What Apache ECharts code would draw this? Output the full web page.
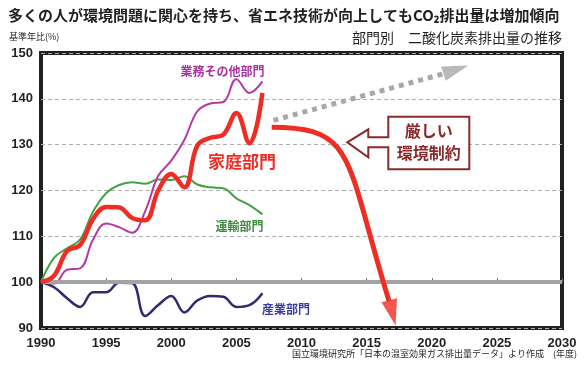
<!DOCTYPE html>
<html><head><meta charset="utf-8">
<script src="https://cdn.jsdelivr.net/npm/echarts@6/dist/echarts.min.js"></script>
<style>html,body{margin:0;padding:0;background:#fff}#c{width:584px;height:369px}</style>
</head><body><div id="c"></div>
<script>
// ---- data ----
const years = [1990,1991,1992,1993,1994,1995,1996,1997,1998,1999,2000,2001,2002,2003,2004,2005,2006,2007];
const household  = [100,101.4,106.8,108.1,113.8,116.4,116.3,114.0,113.5,120.0,123.6,120.7,129.8,131.5,132.2,136.9,130.3,141.3]; // 家庭部門
const commercial = [100,99.7,102.7,103.0,109.3,112.8,112.0,110.8,115.5,123.2,126.5,131.0,137.3,139.0,139.3,144.3,141.3,143.8]; // 業務その他部門
const transport  = [100,105.3,107.4,109.3,115.4,119.4,121.2,121.8,121.5,122.4,122.3,123.1,121.3,120.7,120.5,118.3,116.8,114.8]; // 運輸部門
const industry   = [100,98.9,96.5,94.6,97.8,97.8,99.9,99.8,92.6,95.0,97.0,93.4,96.0,97.0,96.8,94.6,95.0,97.6]; // 産業部門
// illustrative scenario arrows (year, % of base year): start, control 1, control 2, end
const declineYears  = [2007.71, 2014.24, 2013.34, 2016.72];
const declineValues = [133.8, 133.8, 127.1, 95.9];
const declineHead   = [2016.98, 93.3];
const trendYears  = [2007.85, 2020.94];
const trendValues = [135.3, 145.5];
const trendHead   = [2021.85, 146.4];
const yMin = 90, yMax = 150, yStep = 10;
const xMin = 1990, xMax = 2030, xStep = 5;

const pair = (xs, ys) => xs.map((x, i) => [x, ys[i]]);
const FONT = '"Noto Sans CJK JP", "Noto Sans", sans-serif';
const NUMFONT = '"Liberation Sans", Arial, sans-serif';

const chart = echarts.init(document.getElementById('c'), null, {renderer: 'canvas'});
const lineBase = {type: 'line', showSymbol: false, symbol: 'none', silent: true, animation: false};

chart.setOption({
  animation: false,
  backgroundColor: '#fff',
  grid: {left: 41, right: 22, top: 53, bottom: 41, show: true, borderColor: '#231f20', borderWidth: 4, backgroundColor: 'transparent'},
  xAxis: [{
    type: 'value', min: xMin, max: xMax, interval: xStep,
    axisLine: {show: false}, axisTick: {show: false}, splitLine: {show: false},
    axisLabel: {margin: 9, fontSize: 13, fontWeight: 'bold', color: '#231f20', fontFamily: NUMFONT, formatter: v => String(v)}
  }, {
    type: 'value', min: xMin, max: xMax, interval: xStep, position: 'bottom', offset: -45.8,
    axisLine: {show: false}, axisLabel: {show: false}, splitLine: {show: false},
    axisTick: {show: true, inside: true, length: 4, lineStyle: {color: '#666', width: 1}}
  }],
  yAxis: {
    type: 'value', min: yMin, max: yMax, interval: yStep,
    axisLine: {show: false}, axisTick: {show: false},
    axisLabel: {margin: 8, fontSize: 13, fontWeight: 'bold', color: '#231f20', fontFamily: NUMFONT},
    splitLine: {show: true, lineStyle: {color: '#b0b0b0', width: 1, type: [4, 3]}}
  },
  series: [
    Object.assign({}, lineBase, {name: 'base', data: [], z: 1,
      markLine: {silent: true, symbol: 'none', label: {show: false}, animation: false,
        lineStyle: {color: '#a3a3a3', width: 4, type: 'solid'}, data: [{yAxis: 100}]}}),
    Object.assign({}, lineBase, {name: '産業部門', data: pair(years, industry), smooth: 0.4, z: 3,
      lineStyle: {color: '#2f2c6e', width: 2.5}}),
    Object.assign({}, lineBase, {name: '運輸部門', data: pair(years, transport), smooth: 0.4, z: 3,
      lineStyle: {color: '#45a044', width: 2}}),
    Object.assign({}, lineBase, {name: '業務その他部門', data: pair(years, commercial), smooth: 0.4, z: 4,
      lineStyle: {color: '#b33aa6', width: 2}}),
    Object.assign({}, lineBase, {name: '家庭部門', data: pair(years, household), smooth: 0.4, z: 5,
      lineStyle: {color: '#ee2e24', width: 4.5}}),
    Object.assign({}, lineBase, {name: 'trend', data: pair(trendYears, trendValues), z: 4,
      lineStyle: {color: '#a8a8a8', width: 5, type: [5, 5], cap: 'butt'}}),
    {type: 'scatter', name: 'trendHead', data: [trendHead], symbol: 'triangle', symbolSize: [15, 26], symbolRotate: -72,
      itemStyle: {color: '#a8a8a8'}, silent: true, z: 4},
    {type: 'custom', name: 'decline', silent: true, z: 6, animation: false,
      data: [[declineYears[0], declineValues[0]]], encode: {x: 0, y: 1},
      renderItem: function (params, api) {
        const p = pair(declineYears, declineValues).map(d => api.coord(d));
        return {type: 'bezierCurve',
          shape: {x1: p[0][0], y1: p[0][1], cpx1: p[1][0], cpy1: p[1][1], cpx2: p[2][0], cpy2: p[2][1], x2: p[3][0], y2: p[3][1]},
          style: {stroke: '#ee2e24', lineWidth: 5, fill: null}};
      }},
    {type: 'scatter', name: 'declineHead', data: [declineHead], symbol: 'triangle', symbolSize: [16, 26], symbolRotate: 194,
      itemStyle: {color: '#ee2e24'}, silent: true, z: 6}
  ],
  graphic: [
    {type: 'text', left: 8, top: 8, style: {text: '多くの人が環境問題に関心を持ち、省エネ技術が向上してもCO₂排出量は増加傾向', fontSize: 15, fontWeight: 'bold', fill: '#231f20', fontFamily: FONT}},
    {type: 'text', left: 9, top: 32, style: {text: '基準年比(%)', fontSize: 9, fill: '#231f20', fontFamily: FONT}},
    {type: 'text', right: 22, top: 31, style: {text: '部門別　二酸化炭素排出量の推移', fontSize: 14, fill: '#231f20', fontFamily: FONT}},
    {type: 'text', right: 7, top: 349, style: {text: '国立環境研究所「日本の温室効果ガス排出量データ」より作成　(年度)', fontSize: 9, fill: '#231f20', fontFamily: FONT}},
    {type: 'text', x: 222.5, y: 71, style: {text: '業務その他部門', fontSize: 12, fontWeight: 'bold', fill: '#a8329e', fontFamily: FONT, align: 'center', verticalAlign: 'middle'}, z: 10},
    {type: 'text', x: 242, y: 161.5, style: {text: '家庭部門', fontSize: 17, fontWeight: 'bold', fill: '#ee2e24', fontFamily: FONT, align: 'center', verticalAlign: 'middle'}, z: 10},
    {type: 'text', x: 239.5, y: 226, style: {text: '運輸部門', fontSize: 12, fontWeight: 'bold', fill: '#3e8a3e', fontFamily: FONT, align: 'center', verticalAlign: 'middle'}, z: 10},
    {type: 'text', x: 286, y: 309, style: {text: '産業部門', fontSize: 12, fontWeight: 'bold', fill: '#3a3d9e', fontFamily: FONT, align: 'center', verticalAlign: 'middle'}, z: 10},
    {type: 'polygon', z: 9, shape: {points: [[388.3,116.7],[469.3,116.7],[469.3,169.3],[388.3,169.3],[388.3,147.3],[368.3,147.3],[368.3,157.3],[347.3,142.3],[368.3,129.3],[368.3,137.3],[388.3,137.3]]},
      style: {fill: '#fff', stroke: '#8b2a2a', lineWidth: 2}},
    {type: 'text', z: 10, x: 428.8, y: 131, style: {text: '厳しい', fontSize: 16, fontWeight: 'bold', fill: '#8b2a2a', fontFamily: FONT, align: 'center', verticalAlign: 'middle'}},
    {type: 'text', z: 10, x: 428.8, y: 153, style: {text: '環境制約', fontSize: 16, fontWeight: 'bold', fill: '#8b2a2a', fontFamily: FONT, align: 'center', verticalAlign: 'middle'}}
  ]
});
</script></body></html>
